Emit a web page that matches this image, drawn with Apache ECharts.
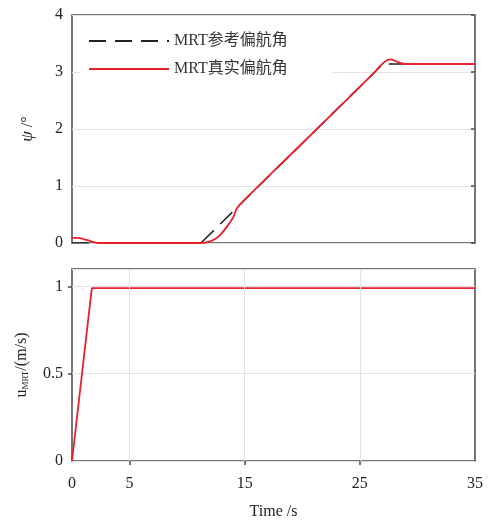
<!DOCTYPE html>
<html>
<head>
<meta charset="utf-8">
<script src="https://cdn.jsdelivr.net/npm/echarts@6/dist/echarts.min.js"></script>
<style>
  html, body { margin: 0; padding: 0; background: #fff; }
  #main { width: 499px; height: 526px; }
</style>
</head>
<body>
<div id="main"></div>
<script>
// 参考偏航角 (reference yaw)
var refT = [0, 11.2, 27.0, 35];
var refPsi = [0, 0, 3.14, 3.14];
// 真实偏航角 (actual yaw)
var actT = [0, 0.5, 1, 1.5, 2, 2.3, 11.2, 12, 12.5, 13, 13.5, 14, 14.3, 15, 20, 25, 26, 27, 27.4, 27.7, 28, 28.5, 29, 35];
var actPsi = [0.09, 0.09, 0.07, 0.04, 0.01, 0, 0, 0.03, 0.08, 0.17, 0.3, 0.45, 0.6, 0.76, 1.75, 2.74, 2.94, 3.15, 3.21, 3.22, 3.2, 3.16, 3.14, 3.14];
// 速度 u_MRT
var uT = [0, 1.72, 35];
var uVal = [0, 0.99, 0.99];
// x 轴刻度
var xTicks = [0, 5, 15, 25, 35];
var xGridLines = [5, 15, 25];

function pairs(xs, ys) {
  return xs.map(function (x, i) { return [x, ys[i]]; });
}

var serif = '"Liberation Serif", "DejaVu Serif", serif';
var cjk = '"Liberation Serif", "Noto Sans CJK SC", sans-serif';
var frame = '#4a4a4a';
var gridColor = '#e2e2e2';

var chart = echarts.init(document.getElementById('main'));

var option = {
  animation: false,
  backgroundColor: '#fff',
  grid: [
    { left: 72, right: 24, top: 15, height: 228, show: true, borderColor: frame, borderWidth: 1.5 },
    { left: 72, right: 24, top: 269, height: 192, show: true, borderColor: frame, borderWidth: 1.5 }
  ],
  legend: {
    left: 80, top: 27, orient: 'vertical',
    backgroundColor: '#fff',
    padding: [6, 44, 6, 8],
    itemWidth: 80, itemHeight: 16, itemGap: 12,
    itemStyle: { opacity: 0 },
    textStyle: { fontFamily: cjk, fontSize: 16, color: '#333' },
    data: ['MRT参考偏航角', 'MRT真实偏航角']
  },
  xAxis: [
    {
      type: 'value', gridIndex: 0, min: 0, max: 35,
      axisLine: { show: false }, axisTick: { show: false },
      axisLabel: { show: false }, splitLine: { show: false }
    },
    {
      type: 'value', gridIndex: 1, min: 0, max: 35,
      name: 'Time /s', nameLocation: 'middle', nameGap: 43,
      nameTextStyle: { fontFamily: serif, fontSize: 16, color: '#222' },
      axisLine: { show: false },
      axisTick: { show: false },
      axisLabel: { customValues: xTicks, margin: 15, fontFamily: serif, fontSize: 16, color: '#222' },
      splitLine: { show: false }
    },
    {
      type: 'value', gridIndex: 1, min: 0, max: 35, position: 'top',
      axisLine: { show: false },
      axisTick: { show: true, inside: true, length: 4, customValues: xGridLines, lineStyle: { color: frame, width: 1.5 } },
      axisLabel: { show: false }, splitLine: { show: false }
    }
  ],
  yAxis: [
    {
      type: 'value', gridIndex: 0, min: 0, max: 4, interval: 1,
      name: '{i|ψ} /°', nameLocation: 'middle', nameGap: 36, nameRotate: 90,
      nameTextStyle: { fontFamily: serif, fontSize: 16, color: '#222', rich: { i: { fontFamily: serif, fontStyle: 'italic', fontSize: 17 } } },
      axisLine: { show: false }, axisTick: { show: false },
      axisLabel: { margin: 9, fontFamily: serif, fontSize: 16, color: '#222' },
      splitLine: { show: true, lineStyle: { color: gridColor, width: 1 } }
    },
    {
      type: 'value', gridIndex: 0, min: 0, max: 4, interval: 1, position: 'right',
      axisLine: { show: false },
      axisTick: { show: true, inside: true, length: 4, lineStyle: { color: frame, width: 1.5 } },
      axisLabel: { show: false }, splitLine: { show: false }
    },
    {
      type: 'value', gridIndex: 1, min: 0, max: 1.1, interval: 0.5,
      name: 'u{s|MRT}/(m/s)', nameLocation: 'middle', nameGap: 42, nameRotate: 90,
      nameTextStyle: { fontFamily: serif, fontSize: 16, color: '#222', rich: { s: { fontFamily: serif, fontSize: 9, verticalAlign: 'bottom', padding: [6, 0, 0, 0] } } },
      axisLine: { show: false }, axisTick: { show: false },
      axisLabel: { margin: 9, fontFamily: serif, fontSize: 16, color: '#222', showMaxLabel: false },
      splitLine: { show: true, lineStyle: { color: gridColor, width: 1 } }
    },
    {
      type: 'value', gridIndex: 1, min: 0, max: 1.1, interval: 0.5, position: 'right',
      axisLine: { show: false },
      axisTick: { show: true, inside: true, length: 4, customValues: [0.5, 1], lineStyle: { color: frame, width: 1.5 } },
      axisLabel: { show: false }, splitLine: { show: false }
    }
  ],
  series: [
    {
      name: 'MRT参考偏航角', type: 'line', xAxisIndex: 0, yAxisIndex: 0,
      data: pairs(refT, refPsi), showSymbol: false, symbol: 'none',
      lineStyle: { color: '#222', width: 1.5, type: [17, 9] },
      itemStyle: { color: '#222' }
    },
    {
      name: 'MRT真实偏航角', type: 'line', xAxisIndex: 0, yAxisIndex: 0,
      data: pairs(actT, actPsi), showSymbol: false, symbol: 'none', smooth: 0.3,
      lineStyle: { color: '#e8202a', width: 1.8 },
      itemStyle: { color: '#e8202a' }
    },
    {
      name: 'u', type: 'line', xAxisIndex: 1, yAxisIndex: 2,
      data: pairs(uT, uVal), showSymbol: false, symbol: 'none',
      lineStyle: { color: '#e8202a', width: 1.8 },
      markLine: {
        silent: true, symbol: 'none', label: { show: false },
        lineStyle: { color: gridColor, width: 1, type: 'solid' },
        data: xGridLines.map(function (v) { return { xAxis: v }; })
      }
    }
  ]
};

chart.setOption(option);
</script>
</body>
</html>
